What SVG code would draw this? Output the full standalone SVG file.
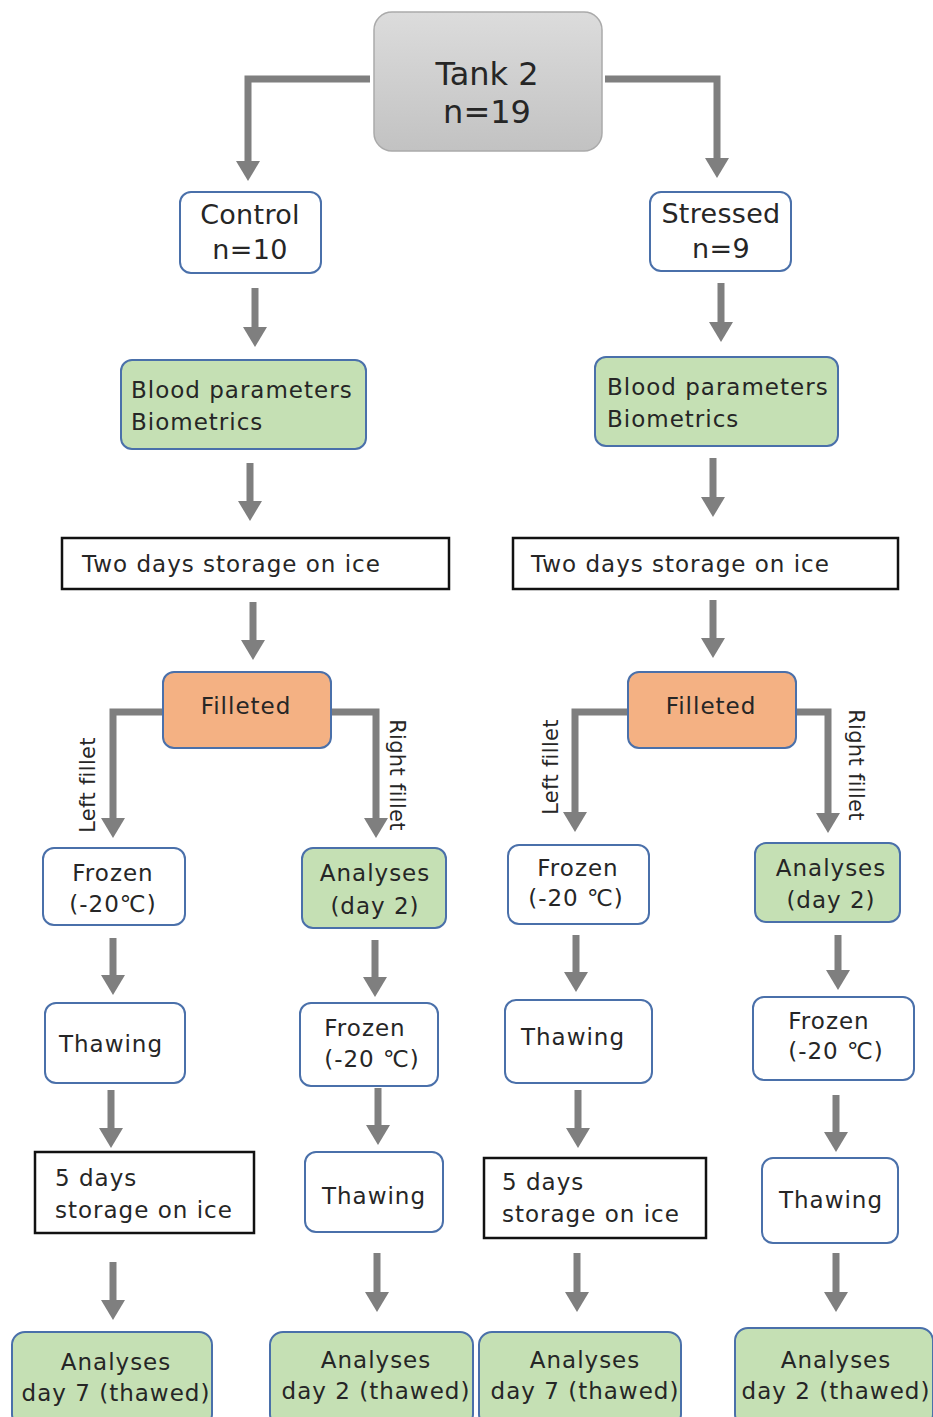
<svg xmlns="http://www.w3.org/2000/svg" width="933" height="1417" viewBox="0 0 933 1417">
<defs>
<linearGradient id="gTank" x1="0" y1="0" x2="0" y2="1">
<stop offset="0" stop-color="#dcdcdc"/>
<stop offset="1" stop-color="#c2c2c2"/>
</linearGradient>
<marker id="ah" viewBox="0 0 20 24" markerWidth="20" markerHeight="24" refX="10" refY="12" orient="auto" markerUnits="userSpaceOnUse">
<path d="M0,0 L20,12 L0,24 z" fill="#7f7f7f"/>
</marker>
</defs>
<style>
text{font-family:"DejaVu Sans","Verdana",sans-serif;fill:#262626;font-size:23px;letter-spacing:1px}
.c{text-anchor:middle}
.big{font-size:32px;letter-spacing:0}
.mid{font-size:27px;letter-spacing:0.3px}
.lab{font-size:21px;text-anchor:middle;letter-spacing:0.3px}
.w{fill:#fff;stroke:#4a70aa;stroke-width:2}
.g{fill:#c5e0b4;stroke:#4a70aa;stroke-width:2}
.o{fill:#f4b183;stroke:#4a70aa;stroke-width:2}
.b{fill:#fff;stroke:#111;stroke-width:2.5}
.conn path{fill:none;stroke:#7f7f7f;stroke-width:7;marker-end:url(#ah)}
</style>
<rect width="933" height="1417" fill="#fff"/>
<g class="conn">
<path d="M370,79 H248 V171"/>
<path d="M605,79 H717 V168"/>
<path d="M255,288 V337"/>
<path d="M721,283 V332"/>
<path d="M250,463 V511"/>
<path d="M713,458 V507"/>
<path d="M253,602 V650"/>
<path d="M713,600 V648"/>
<path d="M163,712 H113 V828"/>
<path d="M331,712 H376 V828"/>
<path d="M628,712 H575 V822"/>
<path d="M796,712 H828 V823"/>
<path d="M113,938 V985"/>
<path d="M375,940 V987"/>
<path d="M576,935 V982"/>
<path d="M838,935 V980"/>
<path d="M111,1090 V1138"/>
<path d="M378,1088 V1135"/>
<path d="M578,1090 V1138"/>
<path d="M836,1095 V1142"/>
<path d="M113,1262 V1310"/>
<path d="M377,1253 V1302"/>
<path d="M577,1253 V1302"/>
<path d="M836,1253 V1302"/>
</g>
<g id="labels">
<text class="lab" transform="translate(95,785) rotate(-90)">Left fillet</text>
<text class="lab" transform="translate(390,775) rotate(90)">Right fillet</text>
<text class="lab" transform="translate(558,767) rotate(-90)">Left fillet</text>
<text class="lab" transform="translate(849,765) rotate(90)">Right fillet</text>
</g>
<g id="tank">
<rect x="374" y="12" width="228" height="139" rx="18" fill="url(#gTank)" stroke="#aaa" stroke-width="1.5"/>
<text class="c big" x="487" y="85">Tank 2</text>
<text class="c big" x="487" y="123">n=19</text>
</g>
<g id="control">
<rect class="w" x="180" y="192" width="141" height="81" rx="11"/>
<text class="c mid" x="250" y="224">Control</text>
<text class="c mid" x="250" y="259">n=10</text>
</g>
<g id="stressed">
<rect class="w" x="650" y="192" width="141" height="79" rx="11"/>
<text class="c mid" x="721" y="223">Stressed</text>
<text class="c mid" x="721" y="258">n=9</text>
</g>
<g id="blood-left">
<rect class="g" x="121" y="360" width="245" height="89" rx="11"/>
<text x="131" y="398">Blood parameters</text>
<text x="131" y="430">Biometrics</text>
</g>
<g id="blood-right">
<rect class="g" x="595" y="357" width="243" height="89" rx="11"/>
<text x="607" y="395">Blood parameters</text>
<text x="607" y="427">Biometrics</text>
</g>
<g id="storage-left">
<rect class="b" x="62" y="538" width="387" height="51"/>
<text x="82" y="572">Two days storage on ice</text>
</g>
<g id="storage-right">
<rect class="b" x="513" y="538" width="385" height="51"/>
<text x="531" y="572">Two days storage on ice</text>
</g>
<g id="filleted-left">
<rect class="o" x="163" y="672" width="168" height="76" rx="11"/>
<text class="c" x="246" y="714">Filleted</text>
</g>
<g id="filleted-right">
<rect class="o" x="628" y="672" width="168" height="76" rx="11"/>
<text class="c" x="711" y="714">Filleted</text>
</g>
<g id="frozen-1">
<rect class="w" x="43" y="848" width="142" height="77" rx="11"/>
<text class="c" x="113" y="881">Frozen</text>
<text class="c" x="113" y="912">(-20℃)</text>
</g>
<g id="analyses-day2-1">
<rect class="g" x="302" y="848" width="144" height="80" rx="11"/>
<text class="c" x="375" y="881">Analyses</text>
<text class="c" x="375" y="914">(day 2)</text>
</g>
<g id="frozen-3">
<rect class="w" x="508" y="845" width="141" height="79" rx="11"/>
<text class="c" x="578" y="876">Frozen</text>
<text class="c" x="576" y="906">(-20 ℃)</text>
</g>
<g id="analyses-day2-2">
<rect class="g" x="755" y="843" width="145" height="79" rx="11"/>
<text class="c" x="831" y="876">Analyses</text>
<text class="c" x="831" y="908">(day 2)</text>
</g>
<g id="thawing-1">
<rect class="w" x="45" y="1003" width="140" height="80" rx="11"/>
<text class="c" x="111" y="1052">Thawing</text>
</g>
<g id="frozen-2">
<rect class="w" x="300" y="1003" width="138" height="83" rx="11"/>
<text class="c" x="365" y="1036">Frozen</text>
<text class="c" x="372" y="1067">(-20 ℃)</text>
</g>
<g id="thawing-3">
<rect class="w" x="505" y="1000" width="147" height="83" rx="11"/>
<text class="c" x="573" y="1045">Thawing</text>
</g>
<g id="frozen-4">
<rect class="w" x="753" y="997" width="161" height="83" rx="11"/>
<text class="c" x="829" y="1029">Frozen</text>
<text class="c" x="836" y="1059">(-20 ℃)</text>
</g>
<g id="days5-1">
<rect class="b" x="35" y="1152" width="219" height="81"/>
<text x="55" y="1186">5 days</text>
<text x="55" y="1218">storage on ice</text>
</g>
<g id="thawing-2">
<rect class="w" x="305" y="1152" width="138" height="80" rx="11"/>
<text class="c" x="374" y="1204">Thawing</text>
</g>
<g id="days5-3">
<rect class="b" x="484" y="1158" width="222" height="80"/>
<text x="502" y="1190">5 days</text>
<text x="502" y="1222">storage on ice</text>
</g>
<g id="thawing-4">
<rect class="w" x="762" y="1158" width="136" height="85" rx="11"/>
<text class="c" x="831" y="1208">Thawing</text>
</g>
<g id="analyses-d7-1">
<rect class="g" x="12" y="1332" width="200" height="95" rx="13"/>
<text class="c" x="116" y="1370">Analyses</text>
<text class="c" x="116" y="1401">day 7 (thawed)</text>
</g>
<g id="analyses-d2t-2">
<rect class="g" x="270" y="1332" width="203" height="95" rx="13"/>
<text class="c" x="376" y="1368">Analyses</text>
<text class="c" x="376" y="1399">day 2 (thawed)</text>
</g>
<g id="analyses-d7-3">
<rect class="g" x="479" y="1332" width="202" height="95" rx="13"/>
<text class="c" x="585" y="1368">Analyses</text>
<text class="c" x="585" y="1399">day 7 (thawed)</text>
</g>
<g id="analyses-d2t-4">
<rect class="g" x="735" y="1328" width="198" height="99" rx="13"/>
<text class="c" x="836" y="1368">Analyses</text>
<text class="c" x="836" y="1399">day 2 (thawed)</text>
</g>
</svg>
